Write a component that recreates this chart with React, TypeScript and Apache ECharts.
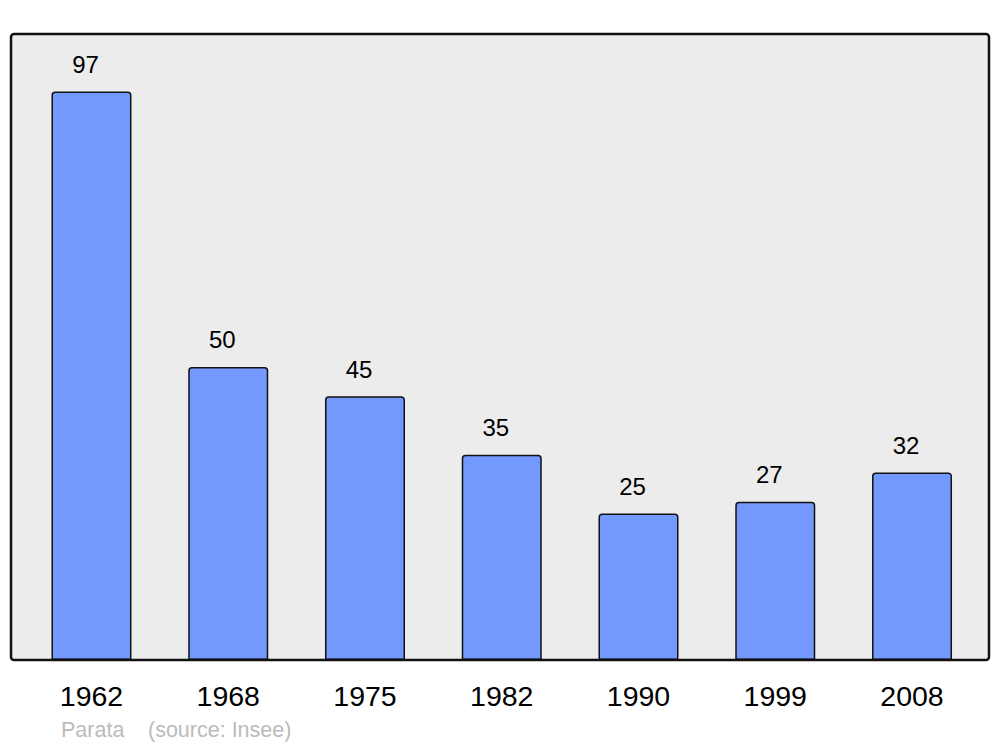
import React, { useEffect, useRef } from "react";
import * as echarts from "echarts";

const years = ["1962", "1968", "1975", "1982", "1990", "1999", "2008"];
const population = [97, 50, 45, 35, 25, 27, 32];
const sourceName = "Parata";
const sourceNote = "(source: Insee)";

export default function App() {
  const ref = useRef<HTMLDivElement>(null);
  useEffect(() => {
    if (!ref.current) return;
    const chart = echarts.init(ref.current, undefined, { renderer: "svg" });
    const font = "'Liberation Sans', Arial, sans-serif";
    chart.setOption({
      animation: false,
      backgroundColor: "#ffffff",
      textStyle: { fontFamily: font },
      grid: { left: 23.1, right: 19.6, top: 34, bottom: 87, containLabel: false },
      xAxis: {
        type: "category",
        data: years,
        axisLine: { show: false },
        axisTick: { show: false },
        axisLabel: { color: "#000", fontSize: 28.5, margin: 21, fontFamily: font },
      },
      yAxis: {
        type: "value",
        min: 0,
        max: 106.8,
        show: false,
        splitLine: { show: false },
      },
      graphic: [
        {
          type: "rect",
          z: -10,
          shape: { x: 11, y: 34, width: 978, height: 626, r: 3 },
          style: { fill: "#ececec", stroke: "none" },
        },
        {
          type: "rect",
          z: 100,
          shape: { x: 11, y: 34, width: 978, height: 626, r: 3 },
          style: { fill: "none", stroke: "#111", lineWidth: 2.5 },
        },
        {
          type: "text",
          x: 61,
          y: 730,
          style: { text: sourceName, fill: "#bbbbbb", fontSize: 21.5, fontFamily: font, verticalAlign: "middle" },
        },
        {
          type: "text",
          x: 148,
          y: 730,
          style: { text: sourceNote, fill: "#bbbbbb", fontSize: 21.5, fontFamily: font, verticalAlign: "middle" },
        },
      ],
      series: [
        {
          type: "bar",
          data: population,
          barWidth: 80,
          itemStyle: {
            color: "#7399ff",
            borderColor: "#111",
            borderWidth: 1.5,
            borderRadius: [3, 3, 0, 0],
          },
          label: {
            show: true,
            position: "top",
            distance: 15,
            offset: [-6, 0],
            color: "#000",
            fontSize: 24,
            fontFamily: font,
          },
        },
      ],
    });
    return () => chart.dispose();
  }, []);
  return (
    <div
      ref={ref}
      style={{ position: "fixed", left: 0, top: 0, width: 1000, height: 747 }}
    />
  );
}
